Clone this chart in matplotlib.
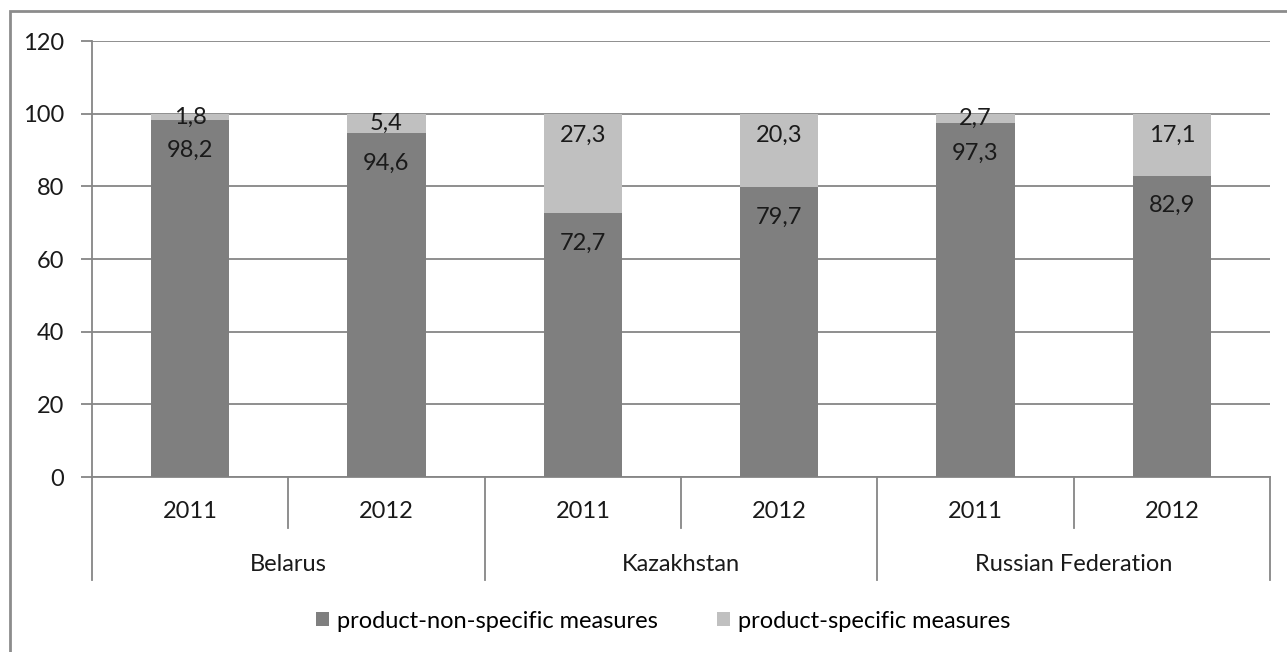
import matplotlib.pyplot as plt
from matplotlib.patches import Rectangle

countries = ['Belarus', 'Kazakhstan', 'Russian Federation']
years = ['2011', '2012', '2011', '2012', '2011', '2012']
non_specific = [98.2, 94.6, 72.7, 79.7, 97.3, 82.9]
specific = [1.8, 5.4, 27.3, 20.3, 2.7, 17.1]

dark = '#7f7f7f'
light = '#c0c0c0'
line_col = '#868686'
fs = 17

plt.rcParams['font.family'] = ['Lato', 'DejaVu Sans']

fig = plt.figure(figsize=(12.87, 6.52), dpi=100)
ax = fig.add_axes([92 / 1287, 1 - 477 / 652, 1178 / 1287, 436 / 652])

# outer chart frame
fig.patches.append(Rectangle((10 / 1287, -0.1), 1.2, 1 - 11 / 652 + 0.1,
                             transform=fig.transFigure, fill=False,
                             edgecolor='#8c8c8c', lw=2))

x = list(range(len(years)))
b1 = ax.bar(x, non_specific, width=0.4, color=dark, label='product-non-specific measures', zorder=3)
b2 = ax.bar(x, specific, width=0.4, bottom=non_specific, color=light,
            label='product-specific measures', zorder=3)

ax.set_xlim(-0.5, 5.5)
ax.set_ylim(0, 120)
ax.set_yticks(range(0, 121, 20))
ax.yaxis.grid(True, color=line_col, lw=1.3, zorder=0)
ax.tick_params(axis='y', length=8, width=1.3, color=line_col, pad=12, labelsize=fs,
               labelcolor='#1a1a1a')
ax.tick_params(axis='x', length=0, labelbottom=False)
for side in ['top', 'right']:
    ax.spines[side].set_visible(False)
ax.spines['left'].set_color(line_col)
ax.spines['left'].set_linewidth(1.3)
ax.spines['bottom'].set_color(line_col)
ax.spines['bottom'].set_linewidth(1.3)

# data labels
for i in x:
    ax.annotate(f'{non_specific[i]:.1f}'.replace('.', ','), (i, non_specific[i]),
                xytext=(0, -30), textcoords='offset pixels',
                ha='center', va='center', fontsize=fs, color='#1a1a1a', zorder=4)
    top = non_specific[i] + specific[i]
    seg_px = specific[i] * 436 / 120
    off = min(seg_px / 2, 22)
    ax.annotate(f'{specific[i]:.1f}'.replace('.', ','), (i, top),
                xytext=(0, -off), textcoords='offset pixels',
                ha='center', va='center', fontsize=fs, color='#1a1a1a', zorder=4)

# multi-level category axis
tr = ax.get_xaxis_transform()
for i, yr in enumerate(years):
    ax.text(i, -0.08, yr, transform=tr, ha='center', va='center', fontsize=fs, color='#1a1a1a')
for k, c in enumerate(countries):
    ax.text(2 * k + 0.5, -0.2, c, transform=tr, ha='center', va='center', fontsize=fs, color='#1a1a1a')
for k in range(3):
    ax.plot([2 * k + 0.5] * 2, [0, -0.117], transform=tr, color=line_col, lw=1.3, clip_on=False)
for k in range(4):
    ax.plot([2 * k - 0.5] * 2, [0, -0.236], transform=tr, color=line_col, lw=1.3, clip_on=False)

fig.legend(handles=[b1, b2], loc='center', bbox_to_anchor=(663 / 1287, 1 - 621 / 652),
           ncol=2, frameon=False, fontsize=fs, handlelength=0.55, handleheight=0.55,
           handletextpad=0.35, columnspacing=2.5)

fig.savefig('out.png', dpi=100)
